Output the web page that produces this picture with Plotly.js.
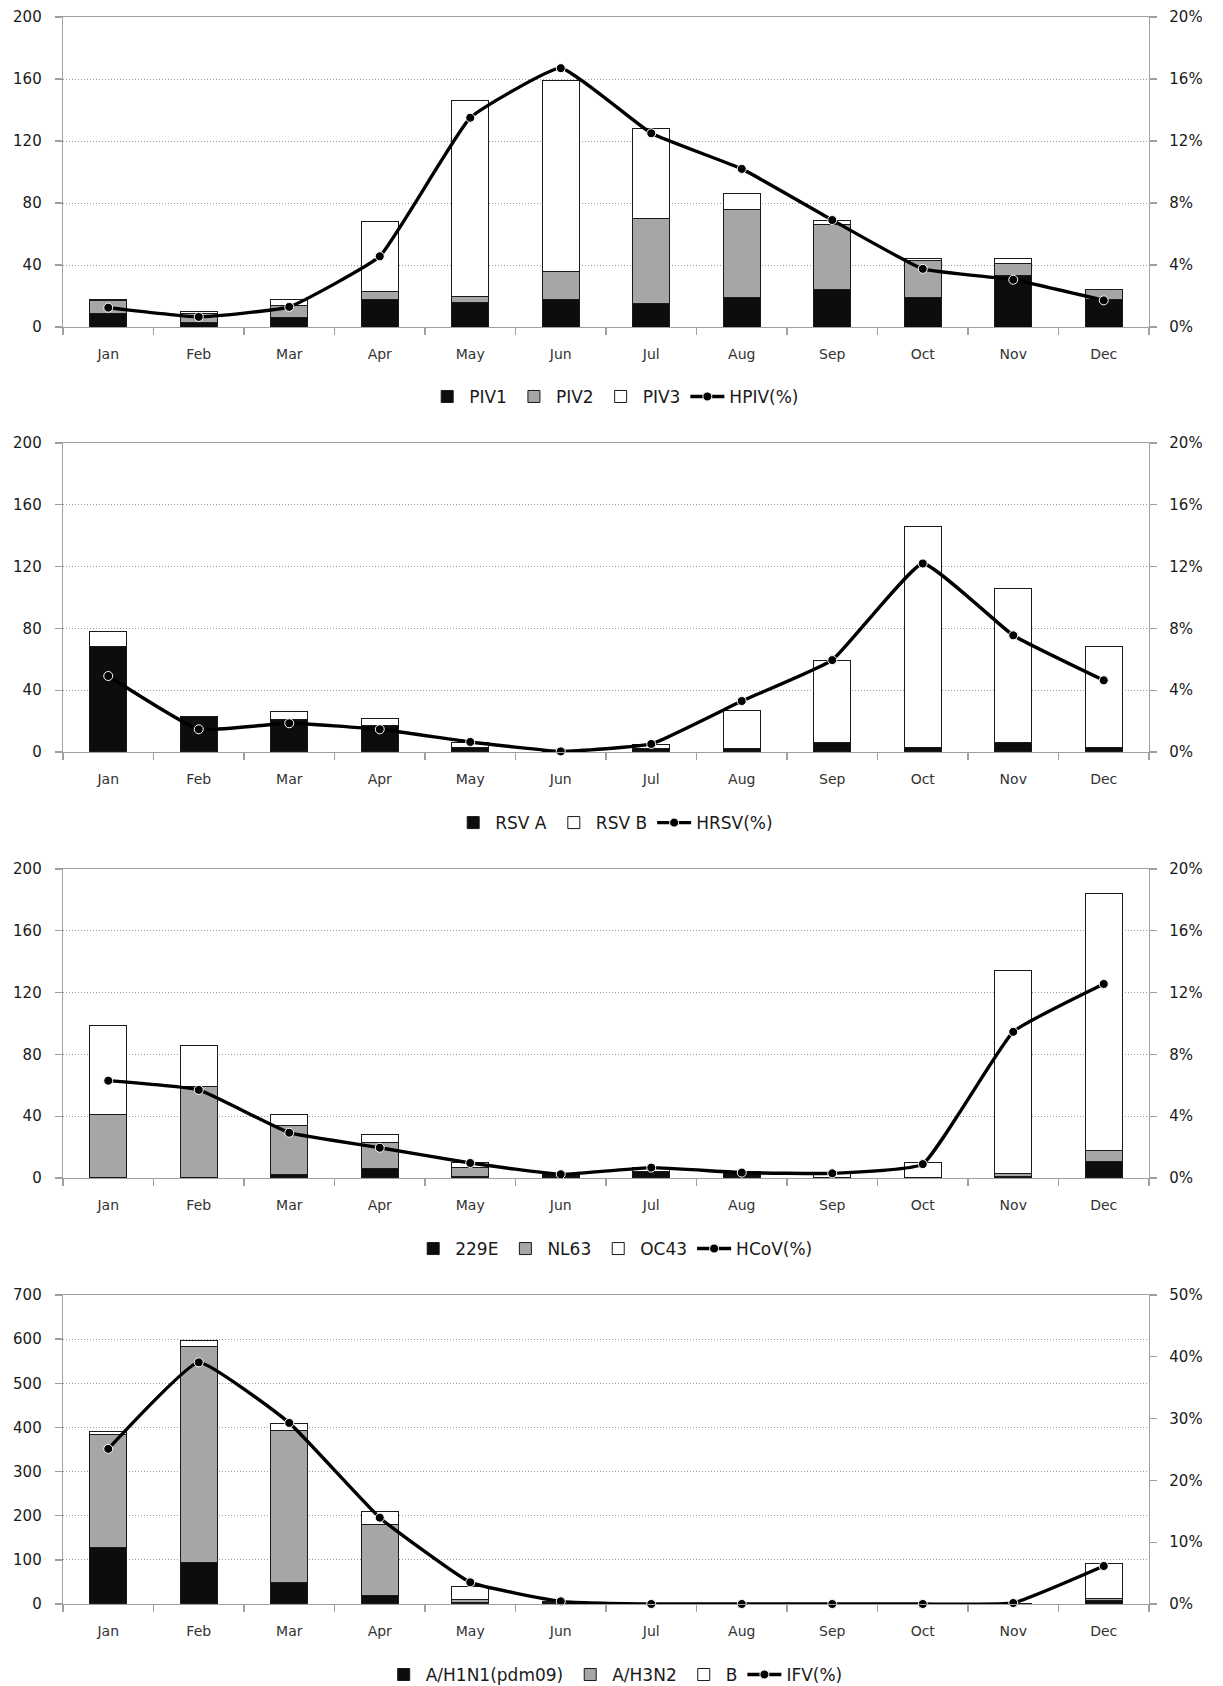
<!DOCTYPE html>
<html>
<head>
<meta charset="utf-8">
<script src="https://cdn.plot.ly/plotly-3.0.1.min.js"></script>
<style>
  html, body { margin: 0; padding: 0; background: #ffffff; }
  #chart { width: 1223px; height: 1686px; }
</style>
</head>
<body>
<div id="chart"></div>
<script>
// Monthly detections by subtype (left axis, counts) and positivity rate (right axis, %)
const months = ['Jan', 'Feb', 'Mar', 'Apr', 'May', 'Jun', 'Jul', 'Aug', 'Sep', 'Oct', 'Nov', 'Dec'];

// Parainfluenza virus
const piv1 = [9, 3, 6, 18, 16, 18, 15, 19, 24, 19, 33, 18];
const piv2 = [8, 6, 8, 5, 4, 18, 55, 57, 42, 24, 8, 6];
const piv3 = [1, 1, 4, 45, 126, 123, 58, 10, 3, 1, 3, 0];
const hpivPct = [1.25, 0.65, 1.3, 4.56, 13.5, 16.7, 12.5, 10.2, 6.9, 3.75, 3.05, 1.72];

// Respiratory syncytial virus
const rsvA = [68, 23, 21, 17, 3, 0, 2, 2, 6, 3, 6, 3];
const rsvB = [10, 0, 5, 5, 3, 0, 3, 25, 53, 143, 100, 65];
const hrsvPct = [4.92, 1.47, 1.86, 1.47, 0.65, 0.04, 0.52, 3.3, 5.95, 12.2, 7.55, 4.64];

// Human coronavirus
const cov229e = [0, 0, 2, 6, 1, 3, 4, 4, 0, 0, 1, 11];
const covNL63 = [41, 59, 32, 17, 6, 0, 0, 0, 0, 0, 2, 7];
const covOC43 = [58, 27, 7, 5, 3, 0, 3, 0, 3, 10, 131, 166];
const hcovPct = [6.3, 5.7, 2.93, 1.96, 0.97, 0.24, 0.67, 0.35, 0.3, 0.9, 9.46, 12.56];

// Influenza virus
const fluH1N1 = [128, 94, 48, 20, 3, 1, 0, 0, 0, 0, 0, 9];
const fluH3N2 = [256, 490, 346, 161, 8, 2, 0, 0, 0, 0, 1, 4];
const fluB = [6, 14, 14, 28, 29, 2, 0, 0, 0, 0, 1, 79];
const ifvPct = [25.1, 39.1, 29.3, 13.97, 3.5, 0.43, 0, 0, 0, 0, 0.16, 6.14];

// Axis ranges per panel: [count max, count step, percent max, percent step]
const panelScales = [
  [200, 40, 20, 4],
  [200, 40, 20, 4],
  [200, 40, 20, 4],
  [700, 100, 50, 10]
];

const FONT = 'DejaVu Sans, sans-serif';
const BLACK = '#0d0d0d';
const GREY = '#a6a6a6';
const WHITE = '#ffffff';
const EDGE = '#1a1a1a';
const AXIS = '#a0a0a0';

function suffix(n) { return n === 1 ? '' : String(n); }
function leftAxisId(p) { return 2 * p - 1; }
function rightAxisId(p) { return 2 * p; }

function barTrace(name, values, color, panel) {
  return {
    type: 'bar',
    name: name,
    x: months,
    y: values,
    xaxis: 'x' + suffix(panel),
    yaxis: 'y' + suffix(leftAxisId(panel)),
    width: 0.41,
    marker: { color: color, line: { color: EDGE, width: 1 } },
    legend: 'legend' + suffix(panel),
    hoverinfo: 'skip'
  };
}

function pctTrace(name, values, panel) {
  return {
    type: 'scatter',
    mode: 'lines+markers',
    name: name,
    x: months,
    y: values,
    xaxis: 'x' + suffix(panel),
    yaxis: 'y' + suffix(rightAxisId(panel)),
    line: { color: '#000000', width: 3.4, shape: 'spline', smoothing: 0.35 },
    marker: { size: 9, color: '#000000', line: { color: '#ffffff', width: 1 } },
    cliponaxis: false,
    legend: 'legend' + suffix(panel),
    hoverinfo: 'skip'
  };
}

const data = [
  barTrace('PIV1', piv1, BLACK, 1),
  barTrace('PIV2', piv2, GREY, 1),
  barTrace('PIV3', piv3, WHITE, 1),
  pctTrace('HPIV(%)', hpivPct, 1),

  barTrace('RSV A', rsvA, BLACK, 2),
  barTrace('RSV B', rsvB, WHITE, 2),
  pctTrace('HRSV(%)', hrsvPct, 2),

  barTrace('229E', cov229e, BLACK, 3),
  barTrace('NL63', covNL63, GREY, 3),
  barTrace('OC43', covOC43, WHITE, 3),
  pctTrace('HCoV(%)', hcovPct, 3),

  barTrace('A/H1N1(pdm09)', fluH1N1, BLACK, 4),
  barTrace('A/H3N2', fluH3N2, GREY, 4),
  barTrace('B', fluB, WHITE, 4),
  pctTrace('IFV(%)', ifvPct, 4)
];

const domains = [
  [0.80466, 1],
  [0.53686, 0.73157],
  [0.26843, 0.46314],
  [0, 0.19471]
];
const legendY = [0.7606, 0.4921, 0.2237, -0.0447];

const layout = {
  width: 1223,
  height: 1686,
  margin: { l: 63, r: 74, t: 17, b: 82, autoexpand: false },
  paper_bgcolor: '#ffffff',
  plot_bgcolor: '#ffffff',
  barmode: 'stack',
  font: { family: FONT, color: '#1a1a1a' },
  showlegend: true
};

for (let p = 1; p <= 4; p++) {
  const [cMax, cStep, pMax, pStep] = panelScales[p - 1];
  const dom = domains[p - 1];
  const L = leftAxisId(p), R = rightAxisId(p);

  layout['xaxis' + suffix(p)] = {
    domain: [0, 1],
    anchor: 'y' + suffix(L),
    type: 'category',
    range: [-0.5, 11.5],
    showline: true,
    mirror: true,
    linecolor: AXIS,
    linewidth: 1.3,
    ticks: 'outside',
    tickson: 'boundaries',
    ticklen: 7,
    tickwidth: 1.3,
    tickcolor: AXIS,
    showgrid: false,
    zeroline: false,
    tickfont: { family: FONT, size: 14, color: '#333333' },
    ticklabelstandoff: 14,
    fixedrange: true
  };

  layout['yaxis' + suffix(L)] = {
    domain: dom,
    anchor: 'x' + suffix(p),
    range: [0, cMax],
    tick0: 0,
    dtick: cStep,
    showline: true,
    linecolor: AXIS,
    linewidth: 1.3,
    ticks: 'outside',
    ticklen: 7,
    tickwidth: 1.3,
    tickcolor: AXIS,
    showgrid: true,
    gridcolor: '#9a9a9a',
    gridwidth: 1,
    griddash: '1px,2px',
    zeroline: false,
    tickfont: { family: FONT, size: 15, color: '#1a1a1a' },
    ticklabelstandoff: 10,
    fixedrange: true
  };

  layout['yaxis' + suffix(R)] = {
    domain: dom,
    anchor: 'x' + suffix(p),
    overlaying: 'y' + suffix(L),
    side: 'right',
    range: [0, pMax],
    tick0: 0,
    dtick: pStep,
    ticksuffix: '%',
    showline: true,
    linecolor: AXIS,
    linewidth: 1.3,
    ticks: 'outside',
    ticklen: 7,
    tickwidth: 1.3,
    tickcolor: AXIS,
    showgrid: false,
    zeroline: false,
    tickfont: { family: FONT, size: 15, color: '#1a1a1a' },
    ticklabelstandoff: 9,
    fixedrange: true
  };

  layout['legend' + suffix(p)] = {
    orientation: 'h',
    x: 0.508,
    xanchor: 'center',
    y: legendY[p - 1],
    yanchor: 'middle',
    traceorder: 'normal',
    itemwidth: 34,
    bgcolor: 'rgba(0,0,0,0)',
    font: { family: FONT, size: 17, color: '#1a1a1a' },
    itemclick: false,
    itemdoubleclick: false
  };
}

Plotly.newPlot('chart', data, layout, { displayModeBar: false, staticPlot: true });
</script>
</body>
</html>
